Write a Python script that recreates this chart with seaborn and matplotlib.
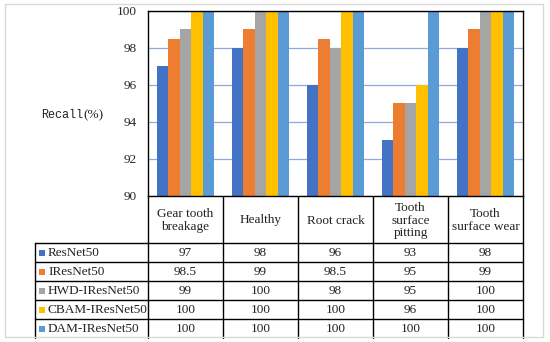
import matplotlib
matplotlib.use("Agg")
import matplotlib.pyplot as plt
import seaborn as sns
import pandas as pd
from matplotlib.patches import Rectangle

categories = ["Gear tooth\nbreakage", "Healthy", "Root crack",
              "Tooth\nsurface\npitting", "Tooth\nsurface wear"]
models = ["ResNet50", "IResNet50", "HWD-IResNet50", "CBAM-IResNet50", "DAM-IResNet50"]
resnet50 = [97, 98, 96, 93, 98]
iresnet50 = [98.5, 99, 98.5, 95, 99]
hwd_iresnet50 = [99, 100, 98, 95, 100]
cbam_iresnet50 = [100, 100, 100, 96, 100]
dam_iresnet50 = [100, 100, 100, 100, 100]
series = [resnet50, iresnet50, hwd_iresnet50, cbam_iresnet50, dam_iresnet50]
colors = ["#4472C4", "#ED7D31", "#A5A5A5", "#FFC000", "#5B9BD5"]
yticks = [90, 92, 94, 96, 98, 100]

rows = []
for m, vals in zip(models, series):
    for c, v in zip(categories, vals):
        rows.append({"Category": c, "Model": m, "Recall": v})
df = pd.DataFrame(rows)

sns.set_style("white")
plt.rcParams["font.family"] = ["Liberation Serif", "DejaVu Serif"]

W, H = 550, 342
fig = plt.figure(figsize=(5.5, 3.42), dpi=100)

# layout in pixels
ax_l, ax_r, ax_t, ax_b = 148, 523, 11, 196
ax = fig.add_axes([ax_l / W, 1 - ax_b / H, (ax_r - ax_l) / W, (ax_b - ax_t) / H])
sns.barplot(data=df, x="Category", y="Recall", hue="Model", order=categories,
            hue_order=models, palette=colors, width=0.77, gap=0, saturation=1,
            linewidth=0, edgecolor="none", ax=ax, legend=False)
ax.set_ylim(90, 100)
ax.set_xlim(-0.5, len(categories) - 0.5)
ax.set_yticks(yticks)
ax.set_yticklabels([str(t) for t in yticks], fontsize=9.5)
ax.set_xticks([])
ax.set_xlabel("")
ax.set_ylabel("")
ax.yaxis.grid(True, color="#8FAADC", lw=0.9)
ax.set_axisbelow(True)
ax.tick_params(axis="y", length=0, pad=8)
for s in ax.spines.values():
    s.set_color("black")
    s.set_linewidth(1.0)
    s.set_visible(True)

# ylabel
fig.text(83 / W, 1 - 115 / H, "Recall", family="Liberation Mono", fontsize=8.5,
         ha="right", va="center", color="#222222")
fig.text(83.5 / W, 1 - 115 / H, "(%)", fontsize=9.5, ha="left", va="center", color="#222222")

# table overlay
tax = fig.add_axes([0, 0, 1, 1], zorder=-1)
tax.set_xlim(0, W)
tax.set_ylim(H, 0)
tax.axis("off")

col_w = 75
lab_l = 35
head_b = 243
row_h = 19
tab_b = 338
lw = 1.0
# vertical lines
for i in range(len(categories) + 1):
    x = ax_l + i * col_w
    tax.plot([x, x], [ax_b, tab_b], color="black", lw=lw)
tax.plot([lab_l, lab_l], [head_b, tab_b], color="black", lw=lw)
# horizontal lines
for j in range(len(models)):
    y = head_b + j * row_h
    tax.plot([lab_l, ax_r], [y, y], color="black", lw=lw)

# header texts
for i, c in enumerate(categories):
    tax.text(ax_l + (i + 0.5) * col_w, (ax_b + head_b) / 2 + 1, c, ha="center", va="center",
             fontsize=9.5, linespacing=1.1, color="#222222")

# rows
for j, (m, vals) in enumerate(zip(models, series)):
    yc = head_b + (j + 0.5) * row_h
    tax.add_patch(Rectangle((lab_l + 4, yc - 3), 6, 6, color=colors[j], lw=0))
    tax.text(lab_l + 13, yc + 0.5, m, ha="left", va="center", fontsize=9.5, color="#222222")
    for i, v in enumerate(vals):
        tax.text(ax_l + (i + 0.5) * col_w, yc + 0.5, f"{v:g}", ha="center", va="center",
                 fontsize=9.5, color="#222222")

# outer light border
fig.patches.append(Rectangle((5 / W, 1 - 337 / H), 538 / W, 333 / H, transform=fig.transFigure,
                             fill=False, edgecolor="#D9D9D9", lw=1.0))

fig.savefig("out.png", dpi=100)
